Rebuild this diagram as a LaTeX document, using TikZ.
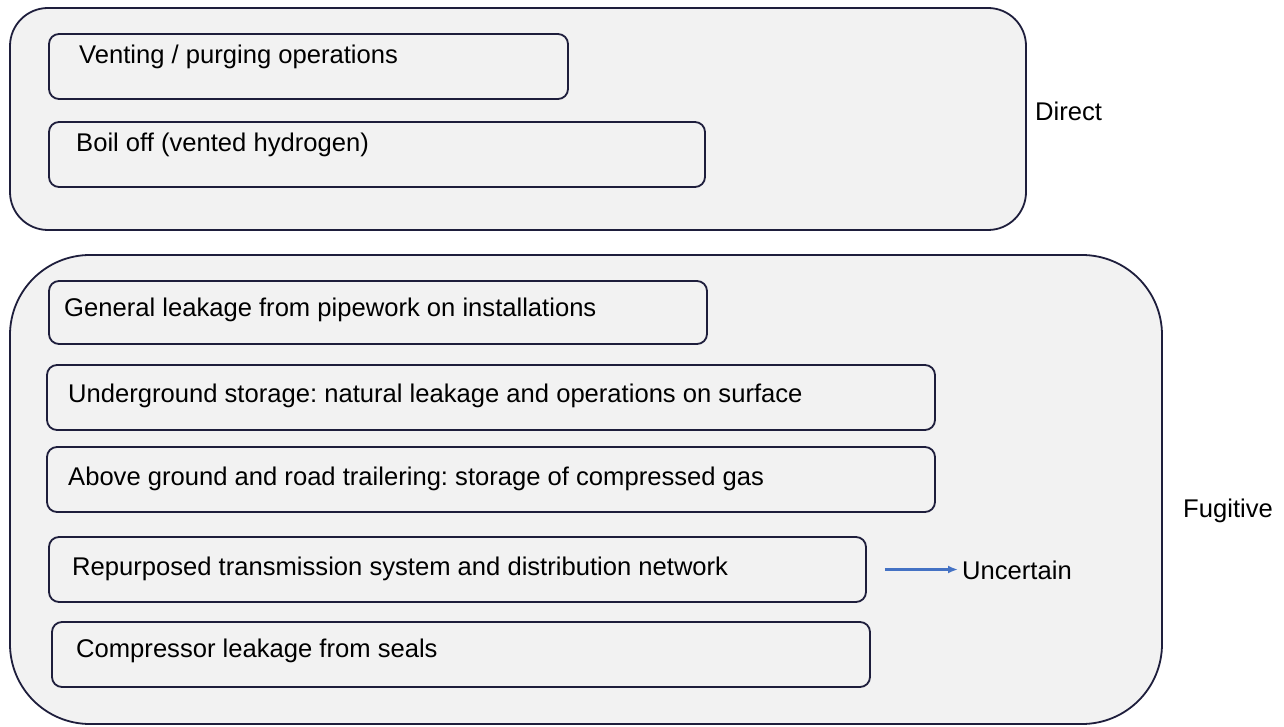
\documentclass[tikz,border=0pt]{standalone}
\usepackage{fontspec}
\setmainfont{Liberation Sans}
\usetikzlibrary{arrows.meta}
\definecolor{edge}{HTML}{1E1E3C}
\definecolor{panel}{HTML}{F2F2F2}
\definecolor{arrowblue}{HTML}{4472C4}
\frenchspacing
\begin{document}
\begin{tikzpicture}[x=1pt,y=-1pt,
  group/.style={draw=edge,fill=panel,line width=1.8pt,inner sep=0pt},
  item/.style={draw=edge,fill=panel,line width=1.8pt,rounded corners=10pt,inner sep=0pt},
  txt/.style={anchor=base west,inner sep=0pt,font=\fontsize{25.6}{30}\selectfont},
  side/.style={anchor=base west,inner sep=0pt,font=\fontsize{25.6}{30}\selectfont}]
\useasboundingbox (0,0) rectangle (1284,727);
\fill[white] (0,0) rectangle (1284,727);

% the two groups
\draw[group,rounded corners=38pt] (10,8) rectangle (1026,230);
\draw[group,rounded corners=80pt] (10,255) rectangle (1162,724);

% direct emissions
\node[item,minimum width=519pt,minimum height=65pt] (b1) at (308.5,66.5) {};
\node[txt] (t1) at (79,64) {Venting / purging operations};
\node[item,minimum width=656pt,minimum height=65pt] (b2) at (377,154.5) {};
\node[txt] (t2) at (76,152) {Boil off (vented hydrogen)};

% fugitive emissions
\node[item,minimum width=658pt,minimum height=63pt] (b3) at (378,312.5) {};
\node[txt] (t3) at (64,316) {General leakage from pipework on installations};
\node[item,minimum width=888pt,minimum height=65pt] (b4) at (491,397.5) {};
\node[txt] (t4) at (68,402) {Underground storage: natural leakage and operations on surface};
\node[item,minimum width=888pt,minimum height=65pt] (b5) at (491,479.5) {};
\node[txt] (t5) at (68,485) {Above ground and road trailering: storage of compressed gas};
\node[item,minimum width=817pt,minimum height=65pt] (b6) at (457.5,569.5) {};
\node[txt] (t6) at (72,575) {Repurposed transmission system and distribution network};
\node[item,minimum width=818pt,minimum height=65pt] (b7) at (461,654.5) {};
\node[txt] (t7) at (76,657) {Compressor leakage from seals};

% side labels
\node[side] (direct) at (1035,121) {Direct};
\node[side] (fugitive) at (1183,517) {Fugitive};
\node[side] (unc) at (962,579) {Uncertain};

\draw[arrowblue,line width=2.2pt,-{Latex[length=10pt,width=8pt]},shorten <=18pt,shorten >=4pt]
  (b6.east) -- (b6.east -| unc.west);
\end{tikzpicture}
\end{document}
